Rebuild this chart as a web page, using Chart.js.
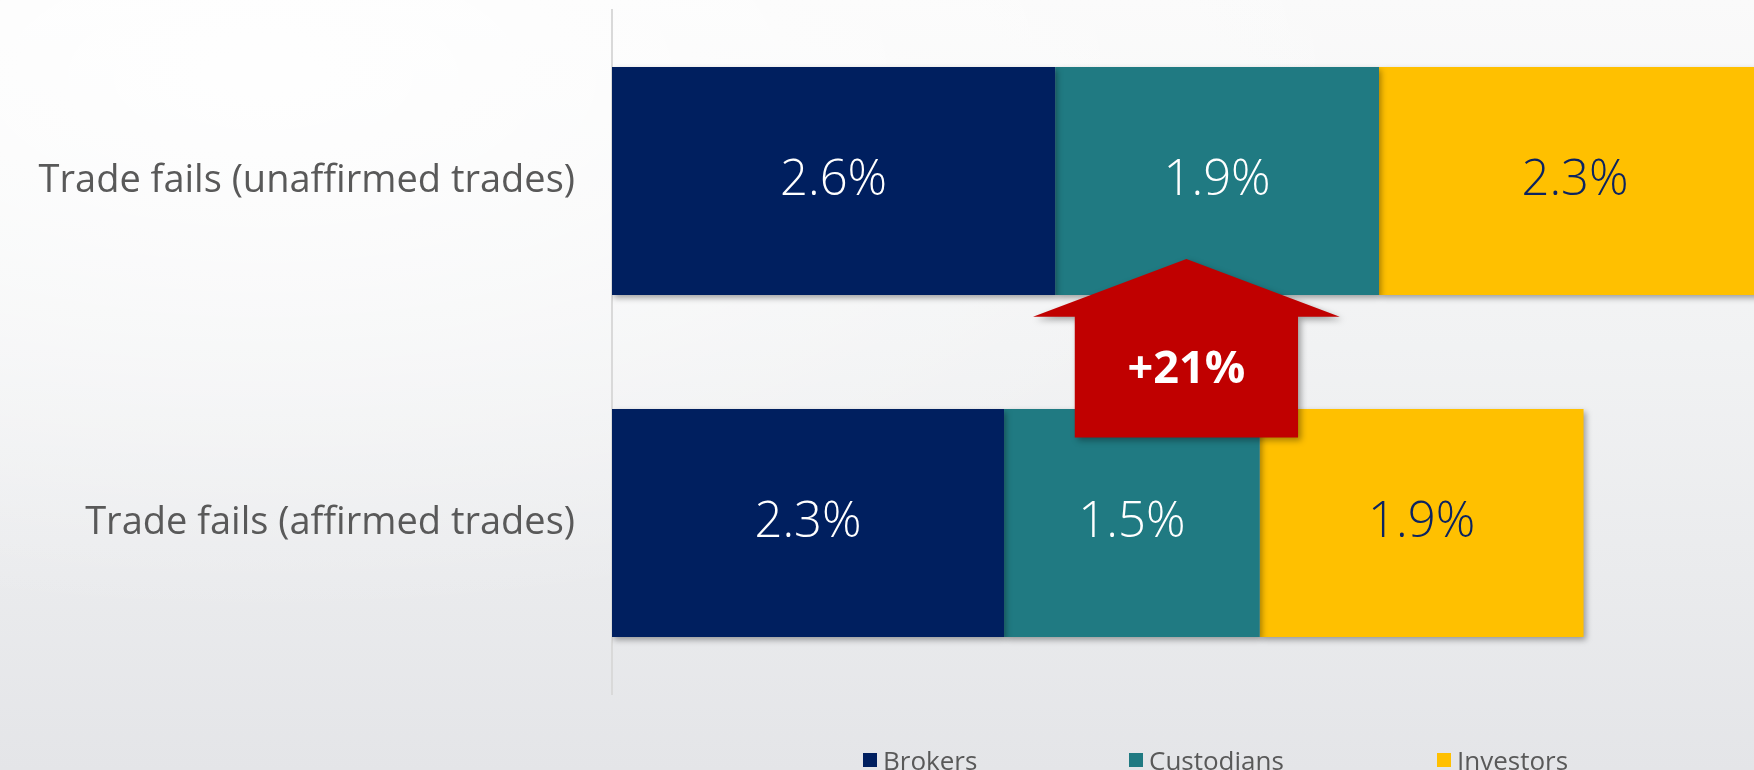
<!DOCTYPE html>
<html>
<head>
<meta charset="utf-8">
<script src="https://cdn.jsdelivr.net/npm/chart.js@4.4.0/dist/chart.umd.min.js"></script>
<style>
  html, body { margin: 0; padding: 0; }
  body {
    width: 1754px; height: 770px; overflow: hidden;
    background:
      radial-gradient(ellipse at 15% 10%, rgba(255,255,255,0.9) 0%, rgba(255,255,255,0) 55%),
      linear-gradient(180deg, #fafafa 0%, #f1f2f3 45%, #e4e5e8 100%);
  }
  #wrap { position: relative; width: 1754px; height: 770px; }
</style>
</head>
<body>
<div id="wrap"><canvas id="grafico" width="1754" height="770"></canvas></div>
<script>
const categorias = ['Trade fails (unaffirmed trades)', 'Trade fails (affirmed trades)'];
const series = ['Brokers', 'Custodians', 'Investors'];
const brokers = [2.6, 2.3];
const custodians = [1.9, 1.5];
const investors = [2.3, 1.9];
const variacao = '+21%';

const cores = ['#001f5f', '#207a82', '#ffc000'];
const coresTexto = ['#ffffff', '#ffffff', '#0b2361'];

// sombra nas barras
const sombra = {
  id: 'sombra',
  beforeDatasetsDraw(chart) {
    const ctx = chart.ctx;
    ctx.save();
    ctx.shadowColor = 'rgba(0,0,0,0.35)';
    ctx.shadowBlur = 6;
    ctx.shadowOffsetX = 2;
    ctx.shadowOffsetY = 3;
  },
  afterDatasetsDraw(chart) {
    chart.ctx.restore();
  }
};

// rotulos dentro das barras
const rotulos = {
  id: 'rotulos',
  afterDatasetsDraw(chart) {
    const ctx = chart.ctx;
    ctx.save();
    ctx.font = '300 49px "Open Sans"';
    ctx.textAlign = 'center';
    ctx.textBaseline = 'middle';
    chart.data.datasets.forEach((ds, i) => {
      const meta = chart.getDatasetMeta(i);
      meta.data.forEach((bar, j) => {
        ctx.fillStyle = coresTexto[i];
        ctx.fillText(ds.data[j].toFixed(1) + '%', (bar.x + bar.base) / 2, bar.y);
      });
    });
    ctx.restore();
  }
};

// seta vermelha com a variacao
const seta = {
  id: 'seta',
  afterDatasetsDraw(chart) {
    const { ctx, scales: { x, y } } = chart;
    const y0 = y.getPixelForValue(0);
    const passo = y.getPixelForValue(1) - y0;
    const un = x.getPixelForValue(1) - x.getPixelForValue(0);
    const cx = x.getPixelForValue(3.37);
    const ponta = y0 + passo * 0.228;
    const asa = y0 + passo * 0.397;
    const fundo = y0 + passo * 0.75;
    const meiaAsa = un * 0.9;
    const meioCorpo = un * 0.655;

    ctx.save();
    ctx.shadowColor = 'rgba(0,0,0,0.35)';
    ctx.shadowBlur = 6;
    ctx.shadowOffsetX = 3;
    ctx.shadowOffsetY = 3;
    ctx.fillStyle = '#c00000';
    ctx.beginPath();
    ctx.moveTo(cx, ponta);
    ctx.lineTo(cx + meiaAsa, asa);
    ctx.lineTo(cx + meioCorpo, asa);
    ctx.lineTo(cx + meioCorpo, fundo);
    ctx.lineTo(cx - meioCorpo, fundo);
    ctx.lineTo(cx - meioCorpo, asa);
    ctx.lineTo(cx - meiaAsa, asa);
    ctx.closePath();
    ctx.fill();
    ctx.restore();

    ctx.save();
    ctx.fillStyle = '#ffffff';
    ctx.font = '700 45px "Open Sans"';
    ctx.textAlign = 'center';
    ctx.textBaseline = 'middle';
    ctx.fillText(variacao, cx, y0 + passo * 0.552);
    ctx.restore();
  }
};

// legenda embaixo
const legenda = {
  id: 'legenda',
  afterDraw(chart) {
    const ctx = chart.ctx;
    const posicoes = [863, 1129, 1437];
    ctx.save();
    ctx.font = '26px "Open Sans"';
    ctx.textBaseline = 'alphabetic';
    series.forEach((nome, i) => {
      ctx.fillStyle = cores[i];
      ctx.fillRect(posicoes[i], 753, 14, 14);
      ctx.fillStyle = '#595959';
      ctx.fillText(nome, posicoes[i] + 20, 770);
    });
    ctx.restore();
  }
};

const chart = new Chart(document.getElementById('grafico'), {
  type: 'bar',
  data: {
    labels: categorias,
    datasets: [
      { label: series[0], data: brokers, backgroundColor: cores[0] },
      { label: series[1], data: custodians, backgroundColor: cores[1] },
      { label: series[2], data: investors, backgroundColor: cores[2] }
    ]
  },
  options: {
    indexAxis: 'y',
    responsive: false,
    animation: false,
    barPercentage: 1,
    categoryPercentage: 0.667,
    layout: { padding: { top: 10, bottom: 76, left: 0, right: 0 } },
    plugins: {
      legend: { display: false },
      tooltip: { enabled: false }
    },
    scales: {
      x: {
        stacked: true,
        display: false,
        min: 0,
        max: 6.7
      },
      y: {
        stacked: true,
        grid: { display: false, drawTicks: false },
        border: { display: true, color: '#d9d9d9', width: 2 },
        ticks: {
          color: '#595959',
          font: { family: '"Open Sans"', size: 38 },
          padding: 37
        },
        afterFit(scale) {
          scale.width = 612;
          scale.paddingTop = 0;
          scale.paddingBottom = 0;
        }
      }
    }
  },
  plugins: [sombra, rotulos, seta, legenda]
});
</script>
</body>
</html>
